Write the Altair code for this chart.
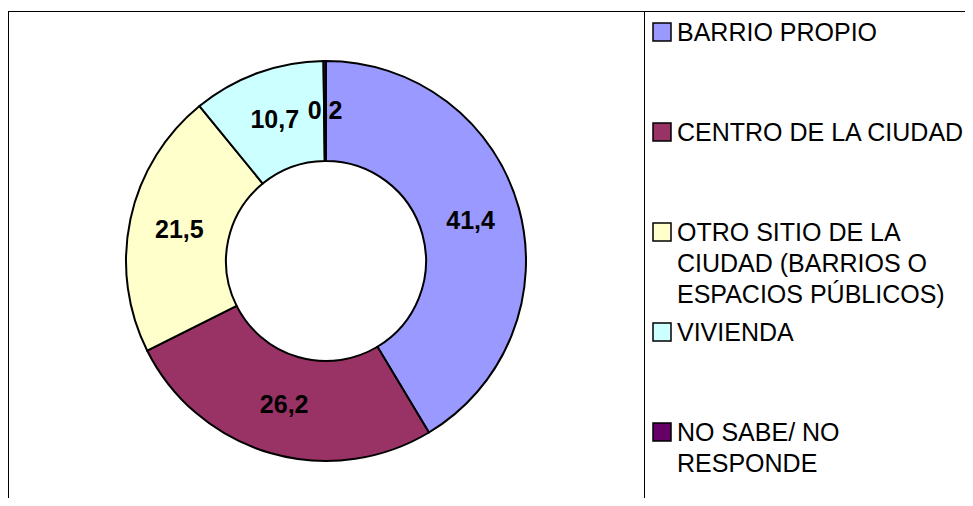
import altair as alt
import pandas as pd

categories = [
    "BARRIO PROPIO",
    "CENTRO DE LA CIUDAD",
    "OTRO SITIO DE LA CIUDAD (BARRIOS O ESPACIOS PÚBLICOS)",
    "VIVIENDA",
    "NO SABE/ NO RESPONDE",
]
values = [41.4, 26.2, 21.5, 10.7, 0.2]
legend_labels = [
    "BARRIO PROPIO",
    "CENTRO DE LA CIUDAD",
    "OTRO SITIO DE LA\nCIUDAD (BARRIOS O\nESPACIOS PÚBLICOS)",
    "VIVIENDA",
    "NO SABE/ NO\nRESPONDE",
]
colors = ["#9999FF", "#993366", "#FFFFCC", "#CCFFFF", "#660066"]

df = pd.DataFrame({
    "cat": categories,
    "value": values,
    "legend": legend_labels,
    "idx": list(range(len(categories))),
})

FONT = "Liberation Sans"
W, H = 957, 490
CX, CY = 318, 253

base = alt.Chart(df)
color = alt.Color("cat:N", scale=alt.Scale(domain=categories, range=colors), legend=None)
theta = alt.Theta("value:Q", stack=True)
order = alt.Order("idx:Q")

arcs = base.mark_arc(
    outerRadius=200, innerRadius=100, stroke="black", strokeWidth=2
).encode(theta=theta, color=color, order=order, x=alt.value(CX), y=alt.value(CY))

labels = base.transform_calculate(
    lab="replace(format(datum.value, '.1f'), '.', ',')"
).mark_text(
    radius=150, fontSize=25, fontWeight="bold", font=FONT, color="black"
).encode(theta=theta, order=order, text="lab:N", x=alt.value(CX), y=alt.value(CY))

ypos = alt.Y(
    "cat:N",
    sort=categories,
    scale=alt.Scale(type="point", domain=categories, range=[24, 424], padding=0),
    axis=None,
)

legend_sq = base.mark_square(
    size=324, stroke="black", strokeWidth=1.5, opacity=1
).encode(x=alt.value(654), y=ypos, color=color)

legend_txt = base.mark_text(
    align="left", baseline="top", dy=-11, fontSize=25, font=FONT,
    lineBreak="\n", lineHeight=31, color="black"
).encode(x=alt.value(669), y=ypos, text="legend:N")

one = alt.Chart(pd.DataFrame({"k": [0]}))
frame_top = one.mark_rule(color="black", strokeWidth=1).encode(
    x=alt.value(0), x2=alt.value(W), y=alt.value(3.5))
frame_left = one.mark_rule(color="black", strokeWidth=1).encode(
    x=alt.value(0.5), y=alt.value(3), y2=alt.value(H))
frame_mid = one.mark_rule(color="black", strokeWidth=1).encode(
    x=alt.value(636.5), y=alt.value(3), y2=alt.value(H))

chart = alt.layer(
    frame_top, frame_left, frame_mid, arcs, labels, legend_sq, legend_txt
).properties(
    width=W, height=H, padding=0, autosize="none"
).configure_view(stroke=None)

chart.save("out.html", embed_options={"renderer": "svg", "actions": False})
